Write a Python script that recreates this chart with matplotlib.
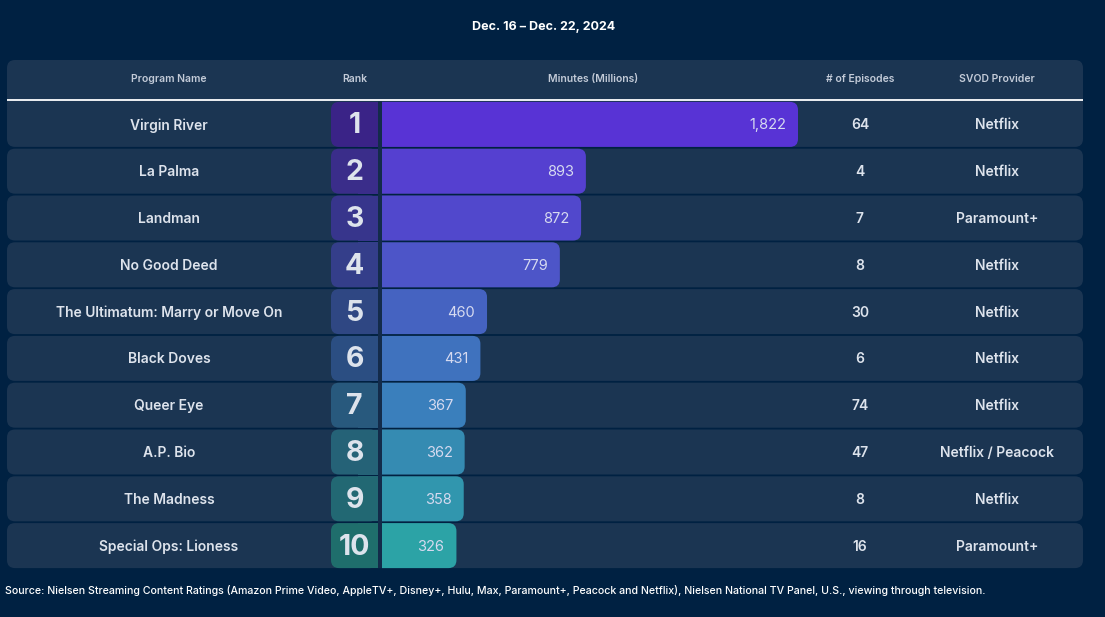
import matplotlib
matplotlib.use("Agg")
import matplotlib.pyplot as plt
from matplotlib.patches import FancyBboxPatch, Rectangle

# ---------------- data ----------------
programs = ["Virgin River", "La Palma", "Landman", "No Good Deed",
            "The Ultimatum: Marry or Move On", "Black Doves", "Queer Eye",
            "A.P. Bio", "The Madness", "Special Ops: Lioness"]
ranks = [1, 2, 3, 4, 5, 6, 7, 8, 9, 10]
minutes = [1822, 893, 872, 779, 460, 431, 367, 362, 358, 326]
episodes = [64, 4, 7, 8, 30, 6, 74, 47, 8, 16]
providers = ["Netflix", "Netflix", "Paramount+", "Netflix", "Netflix",
             "Netflix", "Netflix", "Netflix / Peacock", "Netflix", "Paramount+"]
headers = ["Program Name", "Rank", "Minutes (Millions)", "# of Episodes", "SVOD Provider"]
title = "Dec. 16 \u2013 Dec. 22, 2024"
source = ("Source: Nielsen Streaming Content Ratings (Amazon Prime Video, AppleTV+, Disney+, "
          "Hulu, Max, Paramount+, Peacock and Netflix), Nielsen National TV Panel, U.S., "
          "viewing through television.")

# ---------------- style ----------------
BG = "#002142"
ROW = "#1b3552"
SEP = "#132b4a"
TXT = "#dde3ec"
HDR = "#c3cbd8"
bar_colors = ["#5833d5", "#5540d0", "#5148cc", "#4d55c8", "#4563c1",
              "#3f72be", "#3a7fbc", "#358bb2", "#3196ae", "#2ca3a6"]
rank_colors = ["#3a2387", "#3a2d8a", "#37358c", "#343e8a", "#2f4783",
               "#2b4e82", "#28597d", "#256277", "#226873", "#1f6e6c"]
FONT = ["Inter", "DejaVu Sans"]
plt.rcParams["font.family"] = FONT

W, H = 1105, 617
fig = plt.figure(figsize=(W / 100, H / 100), dpi=100)
fig.patch.set_facecolor(BG)

ax = fig.add_axes([0, 0, 1, 1])
ax.set_xlim(0, W)
ax.set_ylim(H, 0)
ax.axis("off")

X0, X1 = 7, 1083
TOP = 101.0
PITCH = 46.8
RH = 45.0
R = 8

n = len(programs)
centers = [TOP + PITCH / 2 + i * PITCH for i in range(n)]

# header + first row combined box
y_top0 = 60
y_bot0 = centers[0] + RH / 2
ax.add_patch(FancyBboxPatch((X0, y_top0), X1 - X0, y_bot0 - y_top0,
                            boxstyle=f"round,pad=0,rounding_size={R}",
                            fc=ROW, ec="none", zorder=1))
for i in range(1, n):
    ax.add_patch(FancyBboxPatch((X0, centers[i] - RH / 2), X1 - X0, RH,
                                boxstyle=f"round,pad=0,rounding_size={R}",
                                fc=ROW, ec="none", zorder=1))
ax.plot([X0, X1], [100, 100], color="white", lw=1.3, zorder=3,
        solid_capstyle="butt")

# rank boxes
RK0, RK1 = 331, 378
for i in range(n):
    yb = centers[i] - RH / 2
    ax.add_patch(FancyBboxPatch((RK0, yb), RK1 - RK0, RH,
                                boxstyle=f"round,pad=0,rounding_size={R}",
                                fc=rank_colors[i], ec="none", zorder=2))
    ax.add_patch(Rectangle((RK1 - 20, yb), 20, RH, fc=rank_colors[i], ec="none", zorder=2))
    ax.text((RK0 + RK1) / 2, centers[i] + 1.5, str(ranks[i]), ha="center", va="center",
            fontsize=20.5, fontweight="bold", color=TXT, zorder=4)
# separator
ax.add_patch(Rectangle((RK1, TOP), 4, centers[-1] + RH / 2 - TOP, fc=SEP, ec="none", zorder=2))

# texts
ax.text(544, 27, title, ha="center", va="center", fontsize=9, fontweight="bold",
        color="white")
hx = [169, 355, 593, 860, 997]
for x, h in zip(hx, headers):
    ax.text(x, 79, h, ha="center", va="center", fontsize=7.5, fontweight="semibold",
            color=HDR)
for i in range(n):
    yc = centers[i] + 1
    ax.text(169, yc, programs[i], ha="center", va="center", fontsize=10,
            fontweight="semibold", color=TXT, zorder=4)
    ax.text(860, yc, str(episodes[i]), ha="center", va="center", fontsize=10,
            fontweight="semibold", color=TXT, zorder=4)
    ax.text(997, yc, providers[i], ha="center", va="center", fontsize=10,
            fontweight="semibold", color=TXT, zorder=4)
ax.text(5, 591, source, ha="left", va="center", fontsize=7.65, fontweight="medium",
        color="white")

# ---------------- bars via their own axes ----------------
BX0, BX1 = 382, 1083
px_per_unit = 416 / max(minutes)          # longest bar spans 416 px
xmax = (BX1 - BX0) / px_per_unit
bax = fig.add_axes([BX0 / W, 1 - (TOP + n * PITCH) / H, (BX1 - BX0) / W, n * PITCH / H])
bax.set_xlim(0, xmax)
bax.set_ylim(n - 0.5, -0.5)
bax.axis("off")
bax.patch.set_alpha(0)

ux = 1 / px_per_unit      # data x per pixel
uy = 1 / PITCH            # data y per pixel
hh = RH / PITCH
for i, v in enumerate(minutes):
    p = FancyBboxPatch((-3 * R * ux, i - hh / 2), v + 3 * R * ux, hh,
                       boxstyle=f"round,pad=0,rounding_size={R * ux}",
                       mutation_aspect=uy / ux,
                       fc=bar_colors[i], ec="none")
    bax.add_patch(p)
    p.set_clip_on(True)
    bax.annotate(f"{v:,}", xy=(v, i), xytext=(-12, -1), textcoords="offset pixels",
                 ha="right", va="center", fontsize=10.5, color="#d6daf0")

fig.savefig("out.png", dpi=100, facecolor=BG)
